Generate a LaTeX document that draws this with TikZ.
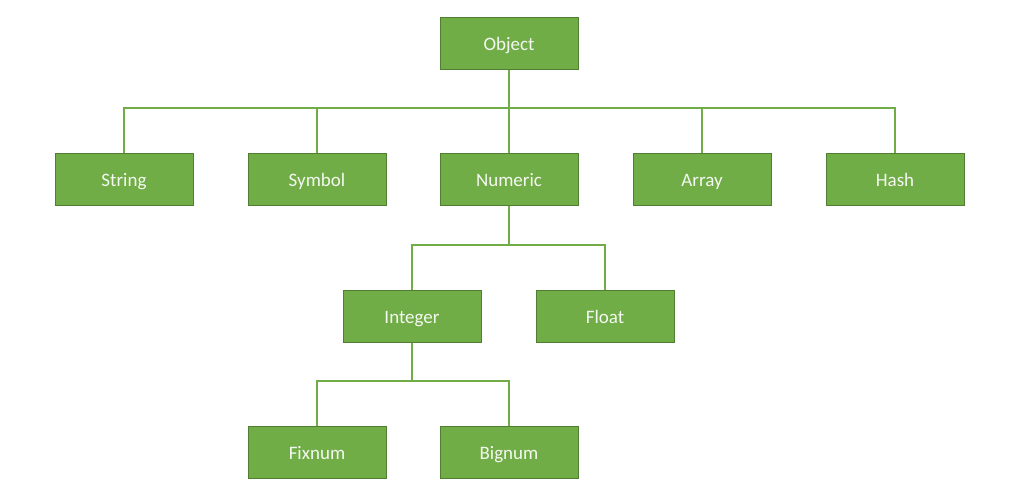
\documentclass[tikz,border=0pt]{standalone}
\usepackage{fontspec}
\setmainfont{Carlito}
\definecolor{boxfill}{HTML}{70AD47}
\definecolor{boxline}{HTML}{507E32}
\definecolor{linkc}{HTML}{70AD47}
\definecolor{txt}{HTML}{F4F8F0}
\begin{document}
\begin{tikzpicture}[x=1pt,y=-1pt,
  cls/.style={draw=boxline,line width=1pt,fill=boxfill,minimum width=138pt,minimum height=52pt,
    inner sep=0pt,text height=15pt,text depth=1pt,text=txt,font=\fontsize{19}{22}\selectfont},
  link/.style={draw=linkc,line width=1.5pt}]
\useasboundingbox (0,0) rectangle (1029,492);
\node[cls] (object) at (509,44) {Object};
\node[cls] (string) at (124,180) {String};
\node[cls] (symbol) at (317,180) {Symbol};
\node[cls] (numeric) at (509,180) {Numeric};
\node[cls] (array) at (702,180) {Array};
\node[cls] (hash) at (895,180) {Hash};
\node[cls] (integer) at (412,316) {Integer};
\node[cls] (float) at (605,316) {Float};
\node[cls] (fixnum) at (317,452) {Fixnum};
\node[cls] (bignum) at (509,452) {Bignum};
\coordinate (b1) at (509,108);
\coordinate (b2) at (509,245);
\coordinate (b3) at (412,381);
\foreach \c in {string,symbol,numeric,array,hash}
  \draw[link] (object.south) -- (b1) -| (\c.north);
\foreach \c in {integer,float}
  \draw[link] (numeric.south) -- (b2) -| (\c.north);
\foreach \c in {fixnum,bignum}
  \draw[link] (integer.south) -- (b3) -| (\c.north);
\end{tikzpicture}
\end{document}
